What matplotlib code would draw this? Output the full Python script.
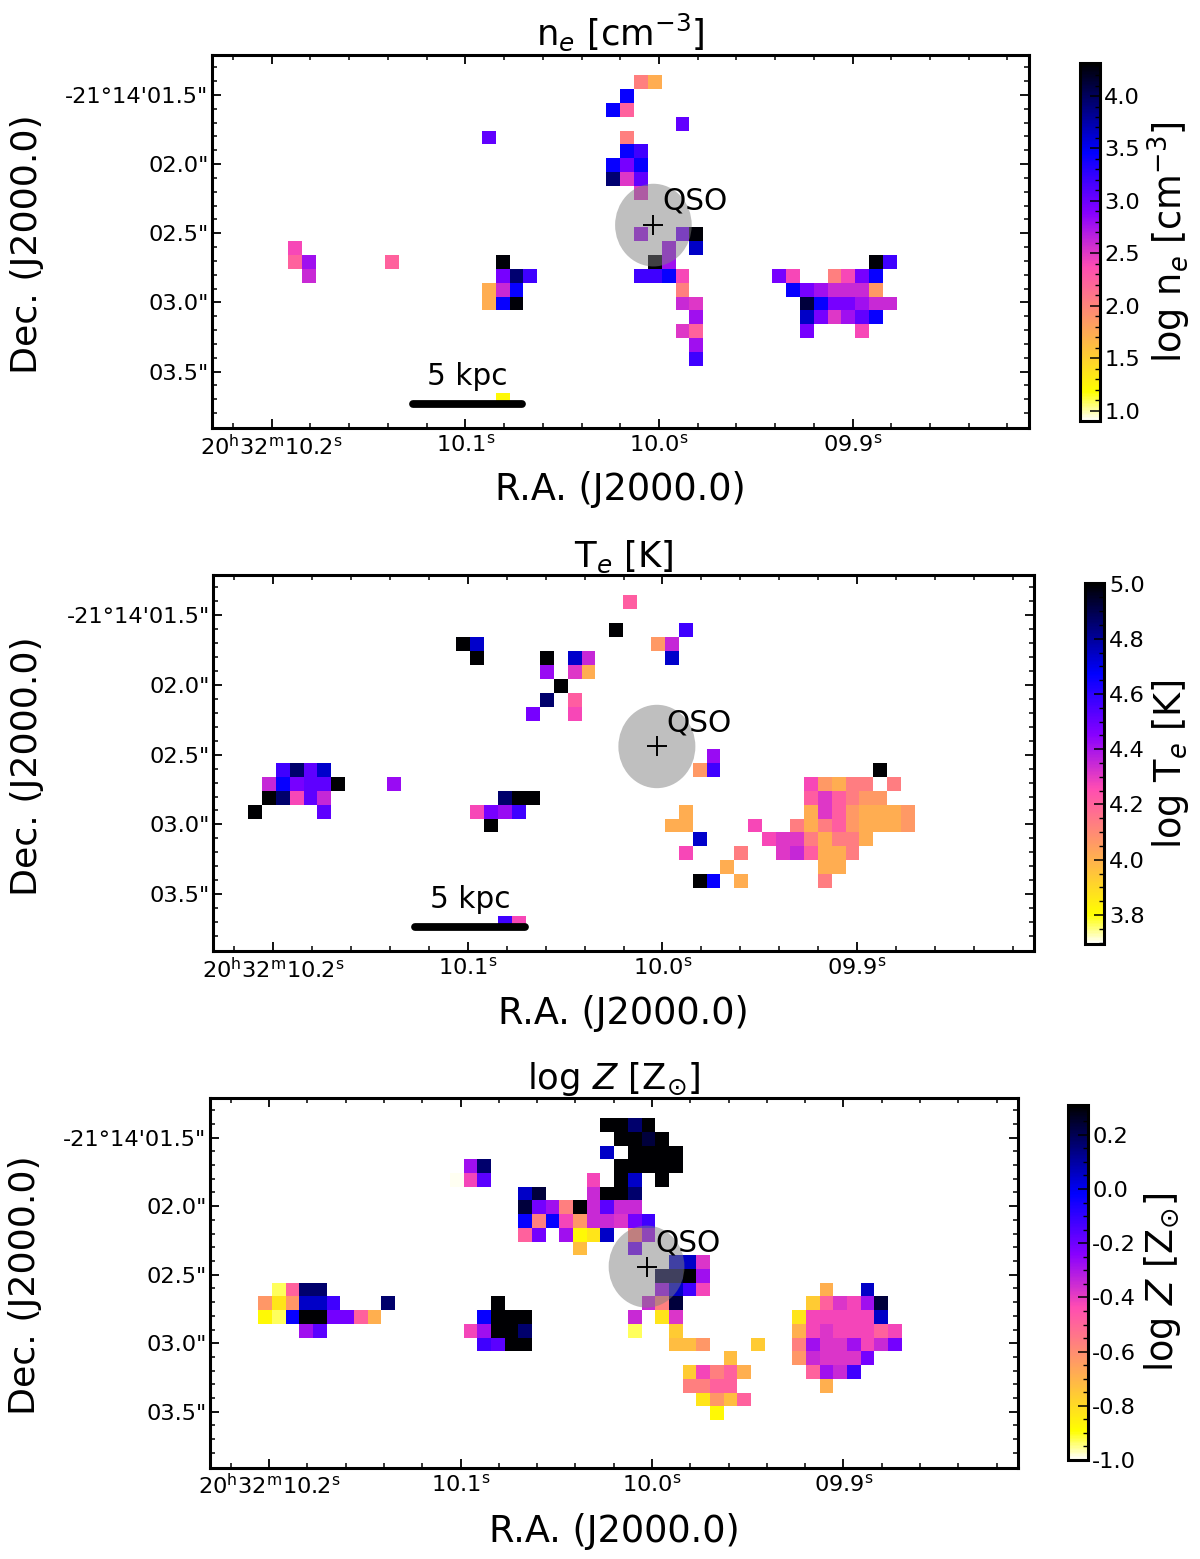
import numpy as np
import matplotlib
matplotlib.use("Agg")
import matplotlib.pyplot as plt
from matplotlib.patches import Ellipse

W, H = 1200, 1559
CODES = "kKndbiwvpqmsrahogefylW"
NE_LEVELS = [4.29,4.11,3.94,3.64,3.43,3.19,3.05,2.95,2.78,2.61,2.51,2.40,2.23,2.03,1.86,1.72,1.62,1.52,1.34,1.21,1.07,0.93]
TE_LEVELS = [4.99,4.92,4.86,4.74,4.66,4.57,4.52,4.48,4.42,4.35,4.31,4.27,4.21,4.13,4.06,4.01,3.97,3.93,3.87,3.82,3.77,3.71]
Z_LEVELS = [0.30,0.23,0.17,0.05,-0.03,-0.12,-0.17,-0.21,-0.28,-0.35,-0.38,-0.42,-0.49,-0.57,-0.63,-0.69,-0.725,-0.76,-0.83,-0.88,-0.93,-0.99]

# (row, first column, level codes)
NE_CELLS = [(0,25,"ao"),(1,24,"b"),(2,23,"br"),(3,28,"w"),(4,14,"w"),(4,24,"a"),(5,24,"bi"),(6,23,"bvb"),
    (7,23,"nmw"),(8,25,"m"),(11,25,"p"),(11,28,"vk"),(12,0,"s"),(12,27,"p"),(12,29,"d"),(13,0,"rp"),(13,7,"r"),
    (13,15,"k"),(13,26,"kp"),(13,42,"ki"),(14,1,"q"),(14,15,"vni"),(14,25,"iibs"),(14,35,"vs"),(14,39,"asvb"),
    (15,14,"oqb"),(15,28,"a"),(15,36,"bvpqqqh"),(16,14,"obk"),(16,28,"qm"),(16,37,"Kbvvpqq"),(17,29,"p"),
    (17,37,"dvmpwb"),(18,28,"mr"),(18,37,"v"),(18,41,"s"),(19,29,"p"),(20,29,"i"),(23,15,"y")]
TE_CELLS = [(0,24,"r"),(2,23,"k"),(2,28,"i"),(3,12,"kd"),(3,26,"hq"),(4,13,"k"),(4,18,"k"),(4,20,"dq"),(4,27,"d"),
    (5,18,"p"),(5,20,"mo"),(6,19,"k"),(7,18,"n"),(7,20,"r"),(8,17,"v"),(8,20,"s"),(11,30,"p"),(12,-1,"inwd"),
    (12,29,"hi"),(12,42,"k"),(13,-2,"qbvwwk"),(13,7,"p"),(13,37,"shoaa"),(13,43,"a"),(14,-2,"knswq"),(14,15,"nkk"),
    (14,37,"rmrahh"),(15,-3,"k"),(15,2,"w"),(15,13,"svpi"),(15,28,"o"),(15,37,"omrhoooh"),(16,14,"k"),(16,27,"oo"),
    (16,33,"s"),(16,36,"aoarhoooh"),(17,29,"d"),(17,34,"smmaoaao"),(18,28,"s"),(18,32,"a"),(18,35,"mqrooa"),
    (19,31,"o"),(19,38,"oo"),(20,29,"kb"),(20,32,"o"),(20,38,"a"),(23,15,"is")]
Z_CELLS = [(0,23,"kknk"),(1,24,"kkKk"),(2,23,"d"),(2,25,"kkkk"),(3,13,"pn"),(3,24,"kkkkk"),(4,12,"Wsw"),(4,22,"s"),
    (4,24,"kd"),(4,27,"k"),(5,17,"dK"),(5,22,"qkkn"),(6,17,"Kvpakqwqq"),(7,17,"babshqqmvi"),(8,17,"rv"),(8,20,"pyfd"),
    (8,25,"ap"),(9,21,"g"),(9,25,"v"),(10,28,"ddm"),(11,27,"KKkp"),(12,-1,"lrnn"),(12,27,"pdis"),(12,39,"o"),(12,42,"d"),
    (13,-2,"hfhddi"),(13,7,"n"),(13,15,"k"),(13,26,"qaK"),(13,38,"ermspK"),(14,-2,"ylbkkvvro"),(14,14,"bkkk"),(14,25,"q"),
    (14,27,"fm"),(14,37,"fsssssd"),(15,1,"pw"),(15,13,"spkkn"),(15,25,"l"),(15,28,"e"),(15,37,"osmsssrs"),(16,14,"iwkk"),
    (16,28,"ggh"),(16,34,"e"),(16,37,"apmmpsqv"),(17,32,"g"),(17,37,"hqmmmv"),(18,29,"esaro"),(18,38,"rpqi"),
    (19,29,"aarr"),(19,39,"o"),(20,30,"fhgr"),(21,31,"y")]

X_TICK_LABELS = [r"20$^{\rm h}$32$^{\rm m}$10.2$^{\rm s}$", r"10.1$^{\rm s}$", r"10.0$^{\rm s}$", r"09.9$^{\rm s}$"]
Y_TICK_LABELS = ["-21\u00b014'01.5\"", '02.0"', '02.5"', '03.0"', '03.5"']
X_MAJOR = [-1.2, 12.8, 26.8, 40.8]
Y_MAJOR = [1.42, 6.42, 11.42, 16.42, 21.42]
XLIM = (-5.52, 53.56)
YLIM = (25.5, -1.47)
QSO_X, QSO_Y = 26.4, 10.83

plt.rcParams["font.family"] = "DejaVu Sans"
plt.rcParams["mathtext.fontset"] = "dejavusans"
fig = plt.figure(figsize=(W/100, H/100), dpi=100)
cmap = plt.get_cmap("gnuplot2_r").copy()
cmap.set_bad((1, 1, 1, 0))

def rect(l, t, r, b):
    return [l/W, 1-b/H, (r-l)/W, (b-t)/H]

def grid_from(cells, levels):
    g = np.full((28, 60), np.nan)
    lut = dict(zip(CODES, levels))
    for row, col, s in cells:
        for i, ch in enumerate(s):
            g[row+2, col+6+i] = lut[ch]
    return g

def panel(box, cbox, cells, levels, vmin, vmax, title, cbl, cticks, cminor, bar, xlab_y, ylab_x, title_pad):
    l, t, r, b = box
    ax = fig.add_axes(rect(*box))
    im = ax.imshow(grid_from(cells, levels), cmap=cmap, vmin=vmin, vmax=vmax, aspect="auto",
                   extent=(-6, 54, 26, -2), interpolation="nearest", zorder=1)
    ax.add_patch(Ellipse((QSO_X, QSO_Y), 5.54, 5.98, facecolor="gray", edgecolor="none", alpha=0.5, zorder=2))
    ax.plot([QSO_X], [QSO_Y], marker="+", color="k", ms=14.5, mew=1.4, zorder=3)
    ax.text(27.05, 9.72, "QSO", fontsize=21.3, ha="left", va="baseline", zorder=4)
    if bar:
        ax.plot([9.0, 16.9], [23.8, 23.8], color="k", lw=5.6, solid_capstyle="round", zorder=4)
        ax.text(12.97, 22.4, "5 kpc", fontsize=21.3, ha="center", va="baseline", zorder=4)
    ax.set_xlim(*XLIM); ax.set_ylim(*YLIM)
    ax.set_xticks(X_MAJOR); ax.set_xticklabels(X_TICK_LABELS)
    ax.set_yticks(Y_MAJOR); ax.set_yticklabels(Y_TICK_LABELS)
    ax.set_xticks(np.arange(-4.0, 52.5, 2.8), minor=True)
    ax.set_yticks(np.arange(-0.58, 25, 1.0), minor=True)
    ax.tick_params(which="major", direction="in", top=True, right=True, length=6.5, width=1.3, labelsize=16.2)
    ax.tick_params(axis="x", which="major", pad=4)
    ax.tick_params(axis="y", which="major", pad=2.5)
    ax.tick_params(which="minor", direction="in", top=True, right=True, length=3.5, width=1.1)
    for s in ax.spines.values():
        s.set_linewidth(2.2)
    ax.set_xlabel("R.A. (J2000.0)", fontsize=26.4, va="center")
    ax.xaxis.set_label_coords(0.5, -(xlab_y - b)/(b - t), transform=ax.transAxes)
    ax.set_ylabel("Dec. (J2000.0)", fontsize=26.2, va="center")
    ax.yaxis.set_label_coords((ylab_x - l)/(r - l), 0.493, transform=ax.transAxes)
    ax.set_title(title, fontsize=25.5, pad=title_pad)
    cax = fig.add_axes(rect(*cbox))
    cb = fig.colorbar(im, cax=cax)
    cb.set_ticks(cticks)
    cb.set_ticklabels(["%.1f" % v for v in cticks])
    cb.ax.set_yticks(cminor, minor=True)
    cax.tick_params(which="major", direction="in", length=7, width=1.1, labelsize=16.2, pad=3.5, right=True)
    cax.tick_params(which="minor", direction="in", length=3.5, width=1.0, right=True)
    cb.outline.set_linewidth(2.2)
    cb.set_label(cbl, fontsize=26.4, labelpad=4)
    return ax

panel((212, 55, 1029, 428), (1079.5, 62.5, 1099.5, 421), NE_CELLS, NE_LEVELS, 0.9, 4.32,
      r"n$_e$ [cm$^{-3}$]", r"log n$_e$ [cm$^{-3}$]",
      [1.0,1.5,2.0,2.5,3.0,3.5,4.0], np.arange(1.0,4.31,0.1), True, 490, 27, 7)
panel((213.3, 575, 1034.3, 951), (1085, 583.5, 1104, 944), TE_CELLS, TE_LEVELS, 3.695, 5.0,
      r"T$_e$ [K]", r"log T$_e$ [K]",
      [3.8,4.0,4.2,4.4,4.6,4.8,5.0], np.arange(3.7,5.0,0.05), True, 1013, 27, 6)
panel((210, 1098, 1018, 1467.7), (1067.5, 1105, 1087.5, 1460), Z_CELLS, Z_LEVELS, -1.0, 0.31,
      r"log $Z$ [Z$_{\odot}$]", r"log $Z$ [Z$_{\odot}$]",
      [-1.0,-0.8,-0.6,-0.4,-0.2,0.0,0.2], np.arange(-1.0,0.31,0.05), False, 1531, 25, 5)
fig.savefig("out.png", dpi=100)
